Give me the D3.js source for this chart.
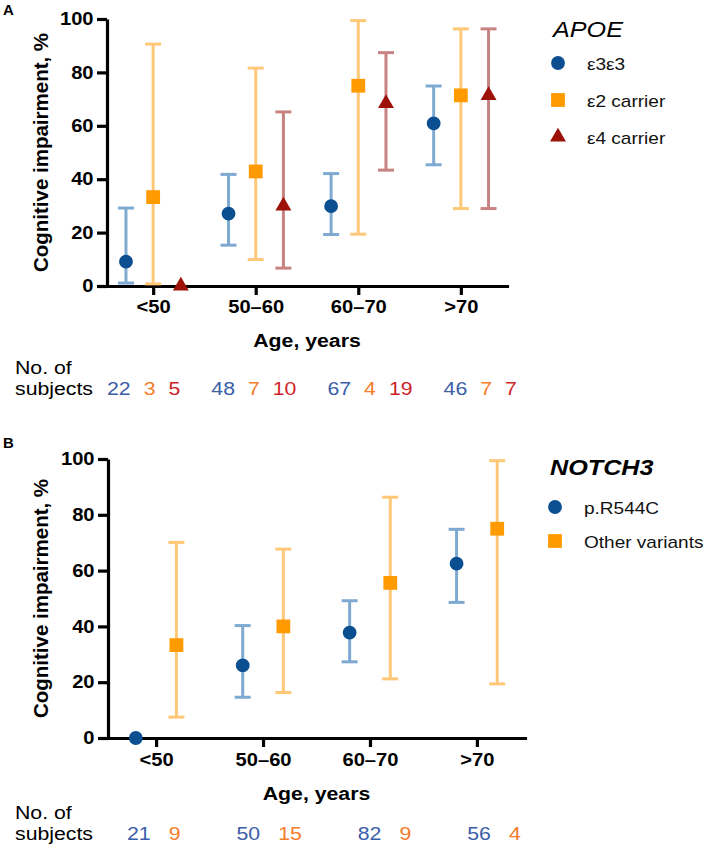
<!DOCTYPE html>
<html><head><meta charset="utf-8">
<script src="https://cdn.jsdelivr.net/npm/d3@7"></script>
<style>body{margin:0;background:#fff} svg{display:block;font-family:"Liberation Sans",Arial,sans-serif}</style>
</head><body><svg id="c" width="709" height="850"></svg>
<script>
// ---------- data ----------
const ageGroups = ["<50", "50–60", "60–70", ">70"];
const yTicks = [0, 20, 40, 60, 80, 100];

// Panel A: APOE
const apoeLabels = ["ε3ε3", "ε2 carrier", "ε4 carrier"];
const e33Val = [9.1, 27.1, 29.9, 60.9];
const e33Lo  = [1.1, 15.3, 19.3, 45.4];
const e33Hi  = [29.2, 41.8, 42.1, 74.9];
const e2Val  = [33.3, 42.9, 75.0, 71.4];
const e2Lo   = [0.8, 9.9, 19.4, 29.0];
const e2Hi   = [90.6, 81.6, 99.4, 96.3];
const e4Val  = [0, 30.0, 68.4, 71.4];
const e4Lo   = [0, 6.7, 43.4, 29.0];
const e4Hi   = [0, 65.2, 87.4, 96.3];
const e33N = [22, 48, 67, 46];
const e2N  = [3, 7, 4, 7];
const e4N  = [5, 10, 19, 7];

// Panel B: NOTCH3
const notchLabels = ["p.R544C", "Other variants"];
const r544Val = [0, 26.0, 37.8, 62.5];
const r544Lo  = [0, 14.6, 27.3, 48.6];
const r544Hi  = [0, 40.3, 49.2, 74.8];
const otherVal = [33.3, 40.0, 55.6, 75.0];
const otherLo  = [7.5, 16.3, 21.2, 19.4];
const otherHi  = [70.1, 67.7, 86.3, 99.4];
const r544N  = [21, 50, 82, 56];
const otherN = [9, 15, 9, 4];

// ---------- styles ----------
const C = {
  blue: "#0b4f91", blueLight: "#7eaad2",
  orange: "#ff9a00", orangeLight: "#ffc878",
  red: "#9c1208", redLight: "#c98282",
  nBlue: "#3b5ea8", nOrange: "#f47c2a", nRed: "#cf1f27"
};
const S = 1.12; // horizontal text stretch seen in the figure

const svg = d3.select("#c");

function stext(g, x, y) {
  return g.append("text").attr("transform", `translate(${x},${y}) scale(${S},1)`);
}

function panel(cfg) {
  const g = svg.append("g");
  const x = d3.scaleLinear().domain([-0.45, ageGroups.length - 0.55]).range([cfg.x0, cfg.x1]);
  const y = d3.scaleLinear().domain([0, 100]).range([cfg.yb, cfg.yt]);

  // panel letter
  g.append("text").attr("x", 3).attr("y", cfg.letterY).text(cfg.letter)
    .attr("font-size", 15).attr("font-weight", "bold");

  // axes
  const ya = g.append("g").attr("transform", `translate(${cfg.x0},0)`)
    .call(d3.axisLeft(y).tickValues(yTicks).tickSize(10).tickSizeOuter(0).tickPadding(2));
  const xa = g.append("g").attr("transform", `translate(0,${cfg.yb})`)
    .call(d3.axisBottom(x).tickValues(d3.range(ageGroups.length)).tickFormat(i => ageGroups[i])
      .tickSize(9).tickSizeOuter(0).tickPadding(cfg.xPad));
  [ya, xa].forEach(a => {
    a.select(".domain").attr("stroke", "#000").attr("stroke-width", 3.2);
    a.selectAll(".tick line").attr("stroke", "#000").attr("stroke-width", 3.2);
    a.selectAll(".tick text").attr("fill", "#000").attr("font-size", 18).attr("font-weight", "bold")
      .attr("font-family", "Liberation Sans, Arial, sans-serif")
      .attr("transform", `scale(${S},1)`);
  });
  xa.select(".domain").attr("stroke-linecap", "square");

  // axis titles
  g.append("text")
    .attr("transform", `translate(${cfg.ylabX},${(cfg.yt + cfg.yb) / 2}) rotate(-90)`)
    .attr("text-anchor", "middle").attr("font-size", 20.5).attr("font-weight", "bold")
    .text("Cognitive impairment, %");
  stext(g, (cfg.x0 + cfg.x1) / 2, cfg.xlabY)
    .attr("text-anchor", "middle").attr("font-size", 19).attr("font-weight", "bold")
    .text("Age, years");

  // error bars
  cfg.series.forEach(s => {
    const sg = g.append("g");
    ageGroups.forEach((_, i) => {
      const cx = x(i + s.off);
      if (s.hi[i] > s.lo[i]) {
        sg.append("line").attr("x1", cx).attr("x2", cx).attr("y1", y(s.lo[i])).attr("y2", y(s.hi[i]))
          .attr("stroke", s.light).attr("stroke-width", 3);
        [s.lo[i], s.hi[i]].forEach(v => sg.append("line")
          .attr("x1", cx - 8).attr("x2", cx + 8).attr("y1", y(v)).attr("y2", y(v))
          .attr("stroke", s.light).attr("stroke-width", 3));
      }
    });
  });
  // markers
  cfg.series.forEach(s => {
    ageGroups.forEach((_, i) => {
      g.append("path").attr("d", d3.symbol().type(s.sym).size(s.size)())
        .attr("transform", `translate(${x(i + s.off)},${y(s.val[i])})`).attr("fill", s.color);
    });
  });

  // legend
  const lg = g.append("g");
  stext(lg, cfg.legX, cfg.legTitleY).text(cfg.legTitle)
    .attr("font-size", 22.5).attr("font-style", "italic").attr("font-weight", cfg.legTitleWeight);
  cfg.series.forEach((s, k) => {
    const ly = cfg.legY0 + k * cfg.legStep;
    lg.append("path").attr("d", d3.symbol().type(s.sym).size(s.size)())
      .attr("transform", `translate(${cfg.legX + 5},${ly})`).attr("fill", s.color);
    stext(lg, cfg.legX + 34, ly + 7).text(s.label)
      .attr("font-size", 17).attr("fill", "#111");
  });

  // counts
  stext(g, 15, cfg.nY - 21).attr("font-size", 19).text("No. of");
  const t = stext(g, 15, cfg.nY).attr("font-size", 19);
  t.append("tspan").attr("x", 0).text("subjects");
  ageGroups.forEach((_, i) => {
    cfg.series.forEach((s, k) => {
      const ts = t.append("tspan").attr("fill", s.nColor).text(s.n[i]);
      if (i === 0 && k === 0) ts.attr("x", (cfg.nX - 15) / S);
      else ts.attr("dx", (k === 0 ? cfg.gapGroup : cfg.gapIn) / S);
    });
  });
}

panel({
  letter: "A", letterY: 15,
  x0: 107, x1: 507, yt: 19, yb: 286, xPad: 5,
  ylabX: 48, xlabY: 347,
  legX: 553, legTitle: "APOE", legTitleY: 37, legTitleWeight: "normal", legY0: 63, legStep: 37,
  nX: 107, nY: 395, gapIn: 13, gapGroup: 31,
  series: [
    {label: apoeLabels[0], val: e33Val, lo: e33Lo, hi: e33Hi, n: e33N, off: -0.265, sym: d3.symbolCircle, size: 150, color: C.blue, light: C.blueLight, nColor: C.nBlue},
    {label: apoeLabels[1], val: e2Val, lo: e2Lo, hi: e2Hi, n: e2N, off: 0, sym: d3.symbolSquare, size: 190, color: C.orange, light: C.orangeLight, nColor: C.nOrange},
    {label: apoeLabels[2], val: e4Val, lo: e4Lo, hi: e4Hi, n: e4N, off: 0.27, sym: d3.symbolTriangle, size: 110, color: C.red, light: C.redLight, nColor: C.nRed}
  ]
});

panel({
  letter: "B", letterY: 448,
  x0: 108, x1: 525, yt: 459, yb: 738, xPad: 6,
  ylabX: 48, xlabY: 800,
  legX: 550, legTitle: "NOTCH3", legTitleY: 475, legTitleWeight: "bold", legY0: 507, legStep: 34,
  nX: 127, nY: 840, gapIn: 18, gapGroup: 56,
  series: [
    {label: notchLabels[0], val: r544Val, lo: r544Lo, hi: r544Hi, n: r544N, off: -0.19, sym: d3.symbolCircle, size: 150, color: C.blue, light: C.blueLight, nColor: C.nBlue},
    {label: notchLabels[1], val: otherVal, lo: otherLo, hi: otherHi, n: otherN, off: 0.19, sym: d3.symbolSquare, size: 190, color: C.orange, light: C.orangeLight, nColor: C.nOrange}
  ]
});
</script></body></html>
